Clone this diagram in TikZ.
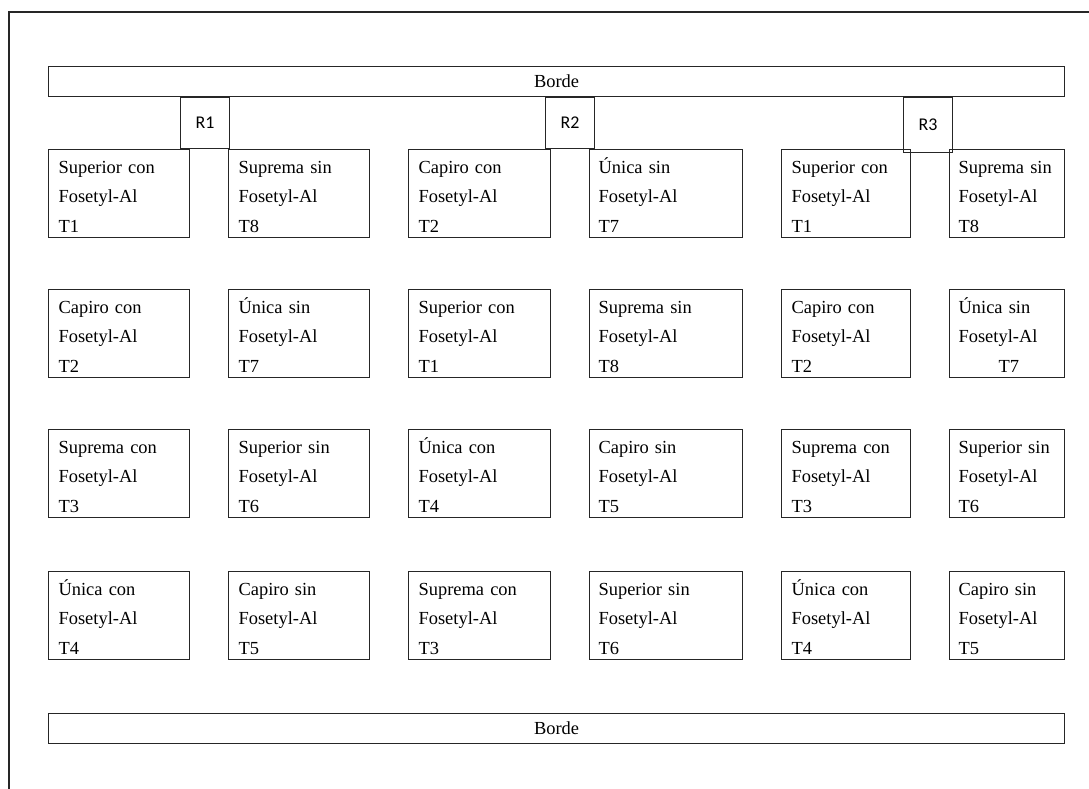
\documentclass[tikz,border=0pt]{standalone}
\usepackage{fontspec}
\setmainfont{Liberation Serif}
\newfontfamily\rfont{Carlito}
\usetikzlibrary{positioning}

\begin{document}
\begin{tikzpicture}[x=1bp, y=-1bp, line width=1.2bp,
  celda/.style={draw=black!85, anchor=north west, minimum width=#1, minimum height=88bp, inner sep=0pt},
  texto/.style={anchor=north west, align=left, text width=130bp, inner sep=0pt, font=\fontsize{18.5}{29.5}\selectfont,
    execute at begin node={\rule{0pt}{20bp}}},
  borde/.style={draw=black!85, anchor=north west, minimum width=1016bp, minimum height=30bp, inner sep=0pt,
    font=\fontsize{18.5}{22}\selectfont},
  rep/.style={draw=black!85, anchor=north west, minimum width=49bp, minimum height=#1, inner sep=0pt,
    font=\rfont\fontsize{18}{20}\selectfont}]
\useasboundingbox (0,0) rectangle (1089,789);
% Marco exterior
\draw[black!85] (9,789) -- (9,12) -- (1089,12);
% Bordes
\node[borde] (bsup) at (48,66) {Borde};
\node[borde] (binf) at (48,713) {Borde};
% Repeticiones
\node[rep=51bp] (r1) at (180,97) {R1};
\node[rep=51bp] (r2) at (545,97) {R2};
\node[rep=55bp] (r3) at (903,97) {R3};
% Fila 1
\node[celda=141bp] (c11) at (48,149) {};
\node[celda=141bp] (c12) at (228,149) {};
\node[celda=142bp] (c13) at (408,149) {};
\node[celda=153bp] (c14) at (589,149) {};
\node[celda=129bp] (c15) at (781,149) {};
\node[celda=115bp] (c16) at (949,149) {};
\node[texto] (t11) at ([xshift=10bp,yshift=-4bp]c11.north west) {Superior con\\Fosetyl-Al\\T1};
\node[texto] (t12) at ([xshift=10bp,yshift=-4bp]c12.north west) {Suprema sin\\Fosetyl-Al\\T8};
\node[texto] (t13) at ([xshift=10bp,yshift=-4bp]c13.north west) {Capiro con\\Fosetyl-Al\\T2};
\node[texto] (t14) at ([xshift=9bp,yshift=-4bp]c14.north west) {Única sin\\Fosetyl-Al\\T7};
\node[texto] (t15) at ([xshift=10bp,yshift=-4bp]c15.north west) {Superior con\\Fosetyl-Al\\T1};
\node[texto] (t16) at ([xshift=9bp,yshift=-4bp]c16.north west) {Suprema sin\\Fosetyl-Al\\T8};
% Fila 2
\node[celda=141bp] (c21) at (48,289) {};
\node[celda=141bp] (c22) at (228,289) {};
\node[celda=142bp] (c23) at (408,289) {};
\node[celda=153bp] (c24) at (589,289) {};
\node[celda=129bp] (c25) at (781,289) {};
\node[celda=115bp] (c26) at (949,289) {};
\node[texto] (t21) at ([xshift=10bp,yshift=-4bp]c21.north west) {Capiro con\\Fosetyl-Al\\T2};
\node[texto] (t22) at ([xshift=10bp,yshift=-4bp]c22.north west) {Única sin\\Fosetyl-Al\\T7};
\node[texto] (t23) at ([xshift=10bp,yshift=-4bp]c23.north west) {Superior con\\Fosetyl-Al\\T1};
\node[texto] (t24) at ([xshift=9bp,yshift=-4bp]c24.north west) {Suprema sin\\Fosetyl-Al\\T8};
\node[texto] (t25) at ([xshift=10bp,yshift=-4bp]c25.north west) {Capiro con\\Fosetyl-Al\\T2};
\node[texto] (t26) at ([xshift=9bp,yshift=-4bp]c26.north west) {Única sin\\Fosetyl-Al\\\hspace*{40bp}T7};
% Fila 3
\node[celda=141bp] (c31) at (48,429) {};
\node[celda=141bp] (c32) at (228,429) {};
\node[celda=142bp] (c33) at (408,429) {};
\node[celda=153bp] (c34) at (589,429) {};
\node[celda=129bp] (c35) at (781,429) {};
\node[celda=115bp] (c36) at (949,429) {};
\node[texto] (t31) at ([xshift=10bp,yshift=-4bp]c31.north west) {Suprema con\\Fosetyl-Al\\T3};
\node[texto] (t32) at ([xshift=10bp,yshift=-4bp]c32.north west) {Superior sin\\Fosetyl-Al\\T6};
\node[texto] (t33) at ([xshift=10bp,yshift=-4bp]c33.north west) {Única con\\Fosetyl-Al\\T4};
\node[texto] (t34) at ([xshift=9bp,yshift=-4bp]c34.north west) {Capiro sin\\Fosetyl-Al\\T5};
\node[texto] (t35) at ([xshift=10bp,yshift=-4bp]c35.north west) {Suprema con\\Fosetyl-Al\\T3};
\node[texto] (t36) at ([xshift=9bp,yshift=-4bp]c36.north west) {Superior sin\\Fosetyl-Al\\T6};
% Fila 4
\node[celda=141bp] (c41) at (48,571) {};
\node[celda=141bp] (c42) at (228,571) {};
\node[celda=142bp] (c43) at (408,571) {};
\node[celda=153bp] (c44) at (589,571) {};
\node[celda=129bp] (c45) at (781,571) {};
\node[celda=115bp] (c46) at (949,571) {};
\node[texto] (t41) at ([xshift=10bp,yshift=-4bp]c41.north west) {Única con\\Fosetyl-Al\\T4};
\node[texto] (t42) at ([xshift=10bp,yshift=-4bp]c42.north west) {Capiro sin\\Fosetyl-Al\\T5};
\node[texto] (t43) at ([xshift=10bp,yshift=-4bp]c43.north west) {Suprema con\\Fosetyl-Al\\T3};
\node[texto] (t44) at ([xshift=9bp,yshift=-4bp]c44.north west) {Superior sin\\Fosetyl-Al\\T6};
\node[texto] (t45) at ([xshift=10bp,yshift=-4bp]c45.north west) {Única con\\Fosetyl-Al\\T4};
\node[texto] (t46) at ([xshift=9bp,yshift=-4bp]c46.north west) {Capiro sin\\Fosetyl-Al\\T5};
\end{tikzpicture}
\end{document}
